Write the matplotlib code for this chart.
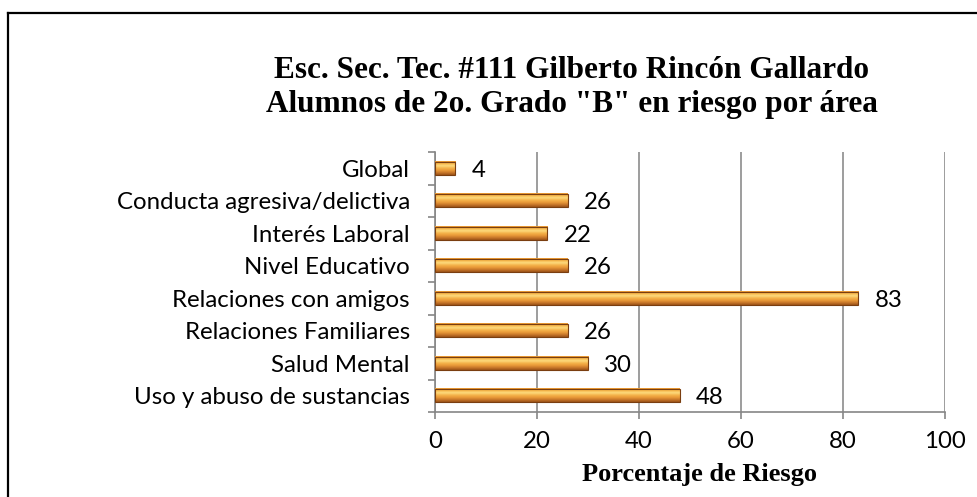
import numpy as np
import matplotlib
matplotlib.use("Agg")
import matplotlib.pyplot as plt
from matplotlib.colors import LinearSegmentedColormap
from matplotlib.lines import Line2D

categories = ["Uso y abuso de sustancias", "Salud Mental", "Relaciones Familiares",
              "Relaciones con amigos", "Nivel Educativo", "Interés Laboral",
              "Conducta agresiva/delictiva", "Global"]
values = [48, 30, 26, 83, 26, 22, 26, 4]
xticks = [0, 20, 40, 60, 80, 100]
title_lines = ["Esc. Sec. Tec. #111 Gilberto Rincón Gallardo",
               'Alumnos de 2o. Grado "B" en riesgo por área']
xlabel = "Porcentaje de Riesgo"

W, H = 978, 497
fig = plt.figure(figsize=(W / 100, H / 100), dpi=100)
ax = fig.add_axes([435 / W, 1 - 412 / H, (945 - 435) / W, (412 - 152) / H])

# frame lines of the chart area
fig.add_artist(Line2D([8 / W, 8 / W], [0, 1 - 13 / H], transform=fig.transFigure, color="black", lw=1.6))
fig.add_artist(Line2D([8 / W, 1], [1 - 13 / H, 1 - 13 / H], transform=fig.transFigure, color="black", lw=1.6))

grad_colors = ["#9C5418", "#C8772A", "#E99A38", "#F5B44C", "#FDDB7E", "#F6B548", "#E9962F"]
cmap = LinearSegmentedColormap.from_list("bar", grad_colors)
grad = np.linspace(0, 1, 64).reshape(-1, 1)

fs = 17.3
bh = 0.41
y = np.arange(len(categories))
ax.set_xlim(0, 100)
ax.set_ylim(-0.5, len(categories) - 0.5)
for yi, v in zip(y, values):
    ax.imshow(grad, cmap=cmap, aspect="auto", origin="lower",
              extent=[0, v, yi - bh / 2, yi + bh / 2], zorder=3, interpolation="bilinear")
    ax.barh(yi, v, height=bh, color="none", edgecolor="#7A3E10", lw=0.8, zorder=4)
    ax.text(v + 3.2, yi - 0.06, f"{v}", va="center", ha="left", fontsize=fs,
            family="Lato", color="black")

ax.set_xticks(xticks)
ax.set_yticks(y)
ax.set_yticklabels(categories, fontsize=fs, family="Lato")
ax.set_yticks(np.arange(-0.5, len(categories), 1), minor=True)
ax.tick_params(axis="y", which="major", length=0, pad=18)
ax.tick_params(axis="y", which="minor", length=5, color="#868686", width=1.2)
ax.tick_params(axis="x", length=5, color="#868686", width=1.2, labelsize=fs, pad=9)
for lab in ax.get_xticklabels():
    lab.set_family("Lato")
ax.grid(axis="x", color="#8C8C8C", lw=1.2, zorder=0)
ax.set_axisbelow(True)
for s in ["top", "right"]:
    ax.spines[s].set_visible(False)
for s in ["left", "bottom"]:
    ax.spines[s].set_color("#868686")
    ax.spines[s].set_linewidth(1.2)

fig.text(700 / W, 1 - 474 / H, xlabel, ha="center", va="center", fontsize=19,
         family="Liberation Serif", fontweight="bold")
for i, line in enumerate(title_lines):
    fig.text(572 / W, 1 - (70 + 35 * i) / H, line, ha="center", va="center", fontsize=22.5,
             family="Liberation Serif", fontweight="bold")

fig.savefig("out.png", dpi=100)
